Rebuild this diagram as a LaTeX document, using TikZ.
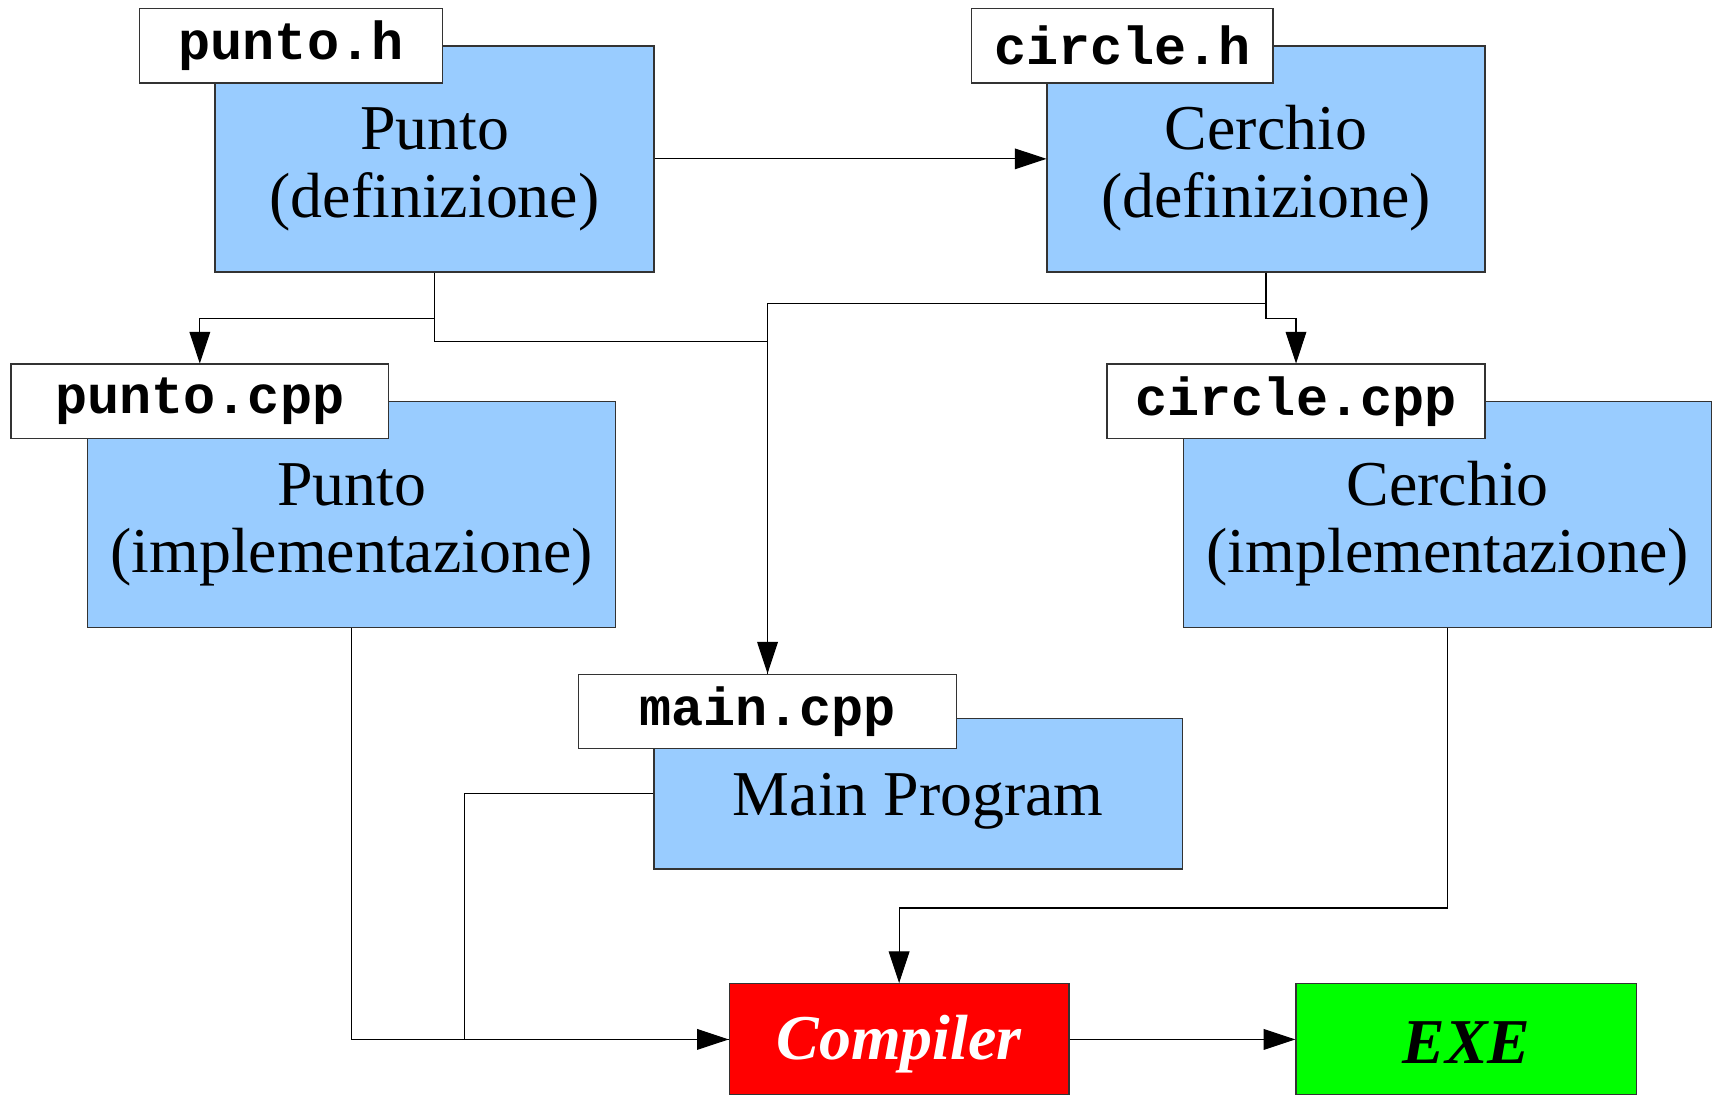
\documentclass[tikz,border=0pt]{standalone}
\usepackage{fontspec}
\setmainfont{Liberation Serif}
\setmonofont{Liberation Mono}
\usetikzlibrary{arrows.meta}
\definecolor{fileblue}{HTML}{99CCFF}
\definecolor{edgegray}{HTML}{333333}
% invisible strut that lowers the centred text block a little
\newcommand\lowerby[1]{\rule{0pt}{#1}}
\begin{document}
\begin{tikzpicture}[x=1pt,y=-1pt,
  srcbox/.style={draw=edgegray,line width=1.2pt,fill=fileblue,align=center,
    inner sep=0pt,font=\fontsize{58.5}{62}\selectfont},
  filetag/.style={draw=edgegray,line width=1.2pt,fill=white,inner sep=0pt,
    minimum height=68pt,font=\fontsize{49}{52}\selectfont\ttfamily\bfseries},
  toolbox/.style={draw=edgegray,line width=1.2pt,inner sep=0pt,
    minimum width=311pt,minimum height=102pt,
    font=\fontsize{58.5}{62}\selectfont\bfseries\itshape},
  link/.style={draw=black,line width=1pt,-{Triangle[length=29pt,width=19pt]}},
  plain/.style={draw=black,line width=1pt}]
\useasboundingbox (0,0) rectangle (1568,1002);

% header files
\node[srcbox,minimum width=402pt,minimum height=207pt] (pdef) at (398,145.5)
  {\lowerby{57pt}Punto\\(definizione)};
\node[filetag,minimum width=277pt] (ph) at (266.5,42) {punto.h};
\node[srcbox,minimum width=401pt,minimum height=207pt] (cdef) at (1159.5,145.5)
  {\lowerby{57pt}Cerchio\\(definizione)};
\node[filetag,minimum width=276pt] (ch) at (1028,42) {circle.h};

% implementation files
\node[srcbox,minimum width=484pt,minimum height=207pt] (pimpl) at (322,471.5)
  {\lowerby{57pt}Punto\\(implementazione)};
\node[filetag,minimum width=346pt] (pcpp) at (183,367.5) {punto.cpp};
\node[srcbox,minimum width=484pt,minimum height=207pt] (cimpl) at (1326,471.5)
  {\lowerby{57pt}Cerchio\\(implementazione)};
\node[filetag,minimum width=346pt] (ccpp) at (1187,367.5) {circle.cpp};

% main program
\node[srcbox,minimum width=484pt,minimum height=138pt] (mainp) at (841,727)
  {\lowerby{53pt}Main Program};
\node[filetag,minimum width=346pt] (mcpp) at (703,651.5) {main.cpp};

% build tools
\node[toolbox,fill=red,text=white] (comp) at (823.5,952) {\lowerby{50pt}Compiler};
\node[toolbox,fill=green,text=black,minimum width=312pt] (exe) at (1343,952)
  {\lowerby{44pt}EXE};

% dependencies
\draw[link] (pdef.east) -- (cdef.west);
\draw[link] (pdef.south) -- ++(0,42) -| (pcpp.north);
\draw[plain] (pdef.south) -- ++(0,63) -| (mcpp.north);
\draw[link] (cdef.south) -- ++(0,28) -| (mcpp.north);
\draw[link] (cdef.south) -- ++(0,42) -| (ccpp.north);

% compilation
\draw[link] (pimpl.south) |- (comp.west);
\draw[plain] (mainp.west) -- ++(-173,0) |- (comp.west);
\draw[link] (cimpl.south) -- ++(0,256) -| (comp.north);
\draw[link] (comp.east) -- (exe.west);
\end{tikzpicture}
\end{document}
